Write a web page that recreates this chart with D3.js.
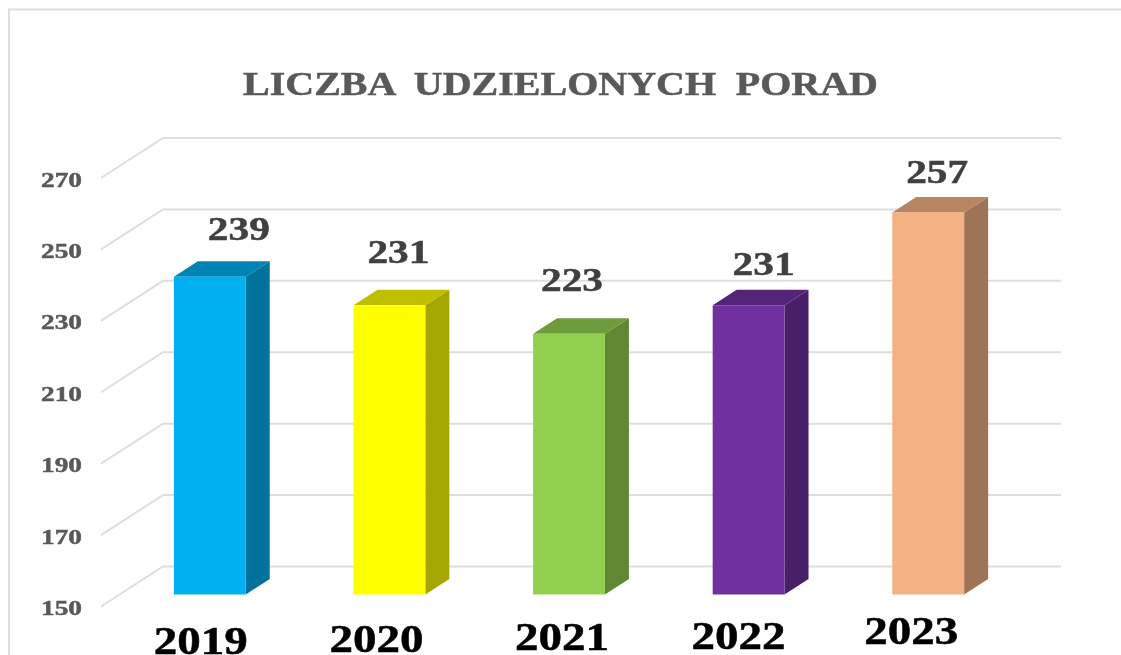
<!DOCTYPE html>
<html>
<head>
<meta charset="utf-8">
<script src="https://cdnjs.cloudflare.com/ajax/libs/d3/7.8.5/d3.min.js"></script>
<style>
  html, body { margin: 0; padding: 0; background: #fff; overflow: hidden; }
  svg { filter: blur(0.45px); }
  text { font-family: "Liberation Serif", serif; font-weight: bold; stroke-width: 0.5px; }
</style>
</head>
<body>
<svg id="chart" width="1121" height="655"></svg>
<script>
// Data
var years = ["2019", "2020", "2021", "2022", "2023"];
var values = [239, 231, 223, 231, 257];
var yTicks = [150, 170, 190, 210, 230, 250, 270];
var title = "LICZBA UDZIELONYCH PORAD";

// Bar colours
var barColors = ["#00B0F0", "#FFFF00", "#92D050", "#7030A0", "#F4B183"];

// Labels were moved by hand in the original, so they are off their default spot
var valueNudge = [[29, -37], [9, -42], [3, -43], [15, -30], [9, -29]];
var yearNudge = [[-9, 0], [-13, -2], [-7, -4], [-10, -5], [-17, -10]];

// Layout
var wall = { left: 163, right: 1061 };
var axisOffset = { x: -62, y: 40 };   // back wall -> front of the axis
var barOffset = { x: -43, y: 28 };    // back wall -> front face of a bar
var depth = { x: 24, y: -15.5 };      // front face -> back face of a bar

var svg = d3.select("#chart");

// Scales live on the back wall
var y = d3.scaleLinear().domain([150, 270]).range([566.5, 138]);
var x = d3.scaleBand().domain(years).range([wall.left, wall.right]).paddingInner(0.6).paddingOuter(0.3);

function shade(c, k) {
  var r = d3.rgb(c);
  return d3.rgb(r.r * k, r.g * k, r.b * k).formatHex();
}

function poly(points) {
  return points.map(function(p) { return p.join(","); }).join(" ");
}

// Frame
svg.append("path")
  .attr("d", "M9,655V9.5H1121")
  .attr("fill", "none")
  .attr("stroke", "#dedede")
  .attr("stroke-width", 2);

// Title
svg.append("text")
  .attr("x", 243)
  .attr("y", 95)
  .attr("font-size", 33)
  .attr("fill", "#595959")
  .attr("stroke", "#595959")
  .attr("textLength", 635)
  .attr("lengthAdjust", "spacingAndGlyphs")
  .style("word-spacing", "8px")
  .text(title);

// Gridlines
var grid = svg.append("g").attr("class", "grid");
grid.selectAll("path")
  .data(yTicks)
  .enter().append("path")
  .attr("d", function(d) {
    return "M" + (wall.left + axisOffset.x) + "," + (y(d) + axisOffset.y) +
      "L" + wall.left + "," + y(d) + "H" + wall.right;
  })
  .attr("fill", "none")
  .attr("stroke", "#dedede")
  .attr("stroke-width", 2);

// Value axis
var yAxis = svg.append("g")
  .attr("transform", "translate(" + (wall.left + axisOffset.x) + "," + (axisOffset.y + 1) + ")")
  .call(d3.axisLeft(y).tickValues(yTicks).tickSize(0).tickPadding(19));
yAxis.select(".domain").remove();
yAxis.selectAll("text")
  .attr("font-size", 22)
  .attr("font-family", "Liberation Serif")
  .attr("fill", "#595959")
  .attr("stroke", "#595959")
  .attr("textLength", 41)
  .attr("lengthAdjust", "spacingAndGlyphs");

// Bars
var bars = svg.append("g").attr("class", "bars")
  .selectAll("g")
  .data(years)
  .enter().append("g");

function frontX(d) { return x(d) + barOffset.x; }
function frontY(v) { return y(v) + barOffset.y; }

// Side face
bars.append("polygon")
  .attr("points", function(d, i) {
    var x1 = frontX(d) + x.bandwidth();
    var top = frontY(values[i]), base = frontY(150);
    return poly([[x1, top], [x1 + depth.x, top + depth.y], [x1 + depth.x, base + depth.y], [x1, base]]);
  })
  .attr("fill", function(d, i) { return shade(barColors[i], 0.65); });

// Top face
bars.append("polygon")
  .attr("points", function(d, i) {
    var x0 = frontX(d), x1 = x0 + x.bandwidth();
    var top = frontY(values[i]);
    return poly([[x0, top], [x0 + depth.x, top + depth.y], [x1 + depth.x, top + depth.y], [x1, top]]);
  })
  .attr("fill", function(d, i) { return shade(barColors[i], 0.75); });

// Front face
bars.append("rect")
  .attr("x", frontX)
  .attr("y", function(d, i) { return frontY(values[i]); })
  .attr("width", x.bandwidth())
  .attr("height", function(d, i) { return frontY(150) - frontY(values[i]); })
  .attr("fill", function(d, i) { return barColors[i]; });

// Value labels
svg.append("g").attr("class", "labels")
  .selectAll("text")
  .data(years)
  .enter().append("text")
  .attr("x", function(d, i) { return frontX(d) + x.bandwidth() / 2 + valueNudge[i][0] - 31; })
  .attr("y", function(d, i) { return frontY(values[i]) + valueNudge[i][1]; })
  .attr("font-size", 34)
  .attr("fill", "#404040")
  .attr("stroke", "#404040")
  .attr("textLength", 62)
  .attr("lengthAdjust", "spacingAndGlyphs")
  .text(function(d, i) { return values[i]; });

// Category axis
var xAxis = svg.append("g")
  .attr("transform", "translate(" + barOffset.x + "," + (frontY(150) + 59) + ")")
  .call(d3.axisBottom(x).tickSize(0).tickPadding(0));
xAxis.select(".domain").remove();
xAxis.selectAll("text")
  .attr("font-size", 40)
  .attr("font-family", "Liberation Serif")
  .attr("fill", "#000")
  .attr("stroke", "#000")
  .attr("text-anchor", "start")
  .attr("textLength", 94)
  .attr("lengthAdjust", "spacingAndGlyphs")
  .attr("x", function(d, i) { return -47 + yearNudge[i][0]; })
  .attr("y", function(d, i) { return yearNudge[i][1]; })
  .attr("dy", 0);
</script>
</body>
</html>
